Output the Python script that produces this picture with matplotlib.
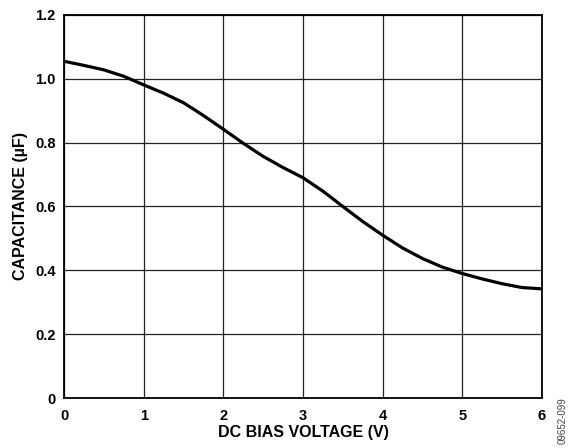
import matplotlib.pyplot as plt

plt.rcParams['font.family'] = ['Liberation Sans', 'DejaVu Sans']

# DC bias voltage (V) and capacitance (uF)
voltage = [0, 0.25, 0.5, 0.75, 1, 1.25, 1.5, 1.75, 2, 2.25, 2.5, 2.75, 3,
           3.25, 3.5, 3.75, 4, 4.25, 4.5, 4.75, 5, 5.25, 5.5, 5.75, 6]
capacitance = [1.055, 1.042, 1.028, 1.008, 0.981, 0.955, 0.925, 0.885, 0.842,
               0.798, 0.757, 0.722, 0.690, 0.648, 0.600, 0.553, 0.510, 0.470,
               0.437, 0.410, 0.390, 0.373, 0.358, 0.346, 0.342]

xticks = [0, 1, 2, 3, 4, 5, 6]
yticks = [0, 0.2, 0.4, 0.6, 0.8, 1.0, 1.2]
ytick_labels = ['0', '0.2', '0.4', '0.6', '0.8', '1.0', '1.2']

fig = plt.figure(figsize=(5.69, 4.48), dpi=100)
ax = fig.add_axes([0.1125, 0.1116, 0.84, 0.855])

ax.plot(voltage, capacitance, color='black', linewidth=2.3, solid_capstyle='butt')

ax.set_xlim(0, 6)
ax.set_ylim(0, 1.2)
ax.set_xticks(xticks)
ax.set_yticks(yticks)
ax.set_yticklabels(ytick_labels)
ax.grid(True, color='#222222', linewidth=0.9)
ax.set_axisbelow(True)
ax.tick_params(length=0, labelsize=10.5)
ax.tick_params(axis='x', pad=8)
ax.tick_params(axis='y', pad=6)
for lab in ax.get_xticklabels() + ax.get_yticklabels():
    lab.set_fontweight('bold')
for s in ax.spines.values():
    s.set_linewidth(1.3)

ax.set_xlabel('DC BIAS VOLTAGE (V)', fontsize=11.5, fontweight='bold', labelpad=1)
ax.set_ylabel('CAPACITANCE (µF)', fontsize=11.5, fontweight='bold', labelpad=5)

fig.text(0.989, 0.008, '09652-099', rotation=90, fontsize=7, color='#444444',
         ha='center', va='bottom')

fig.savefig('out.png', dpi=100)
